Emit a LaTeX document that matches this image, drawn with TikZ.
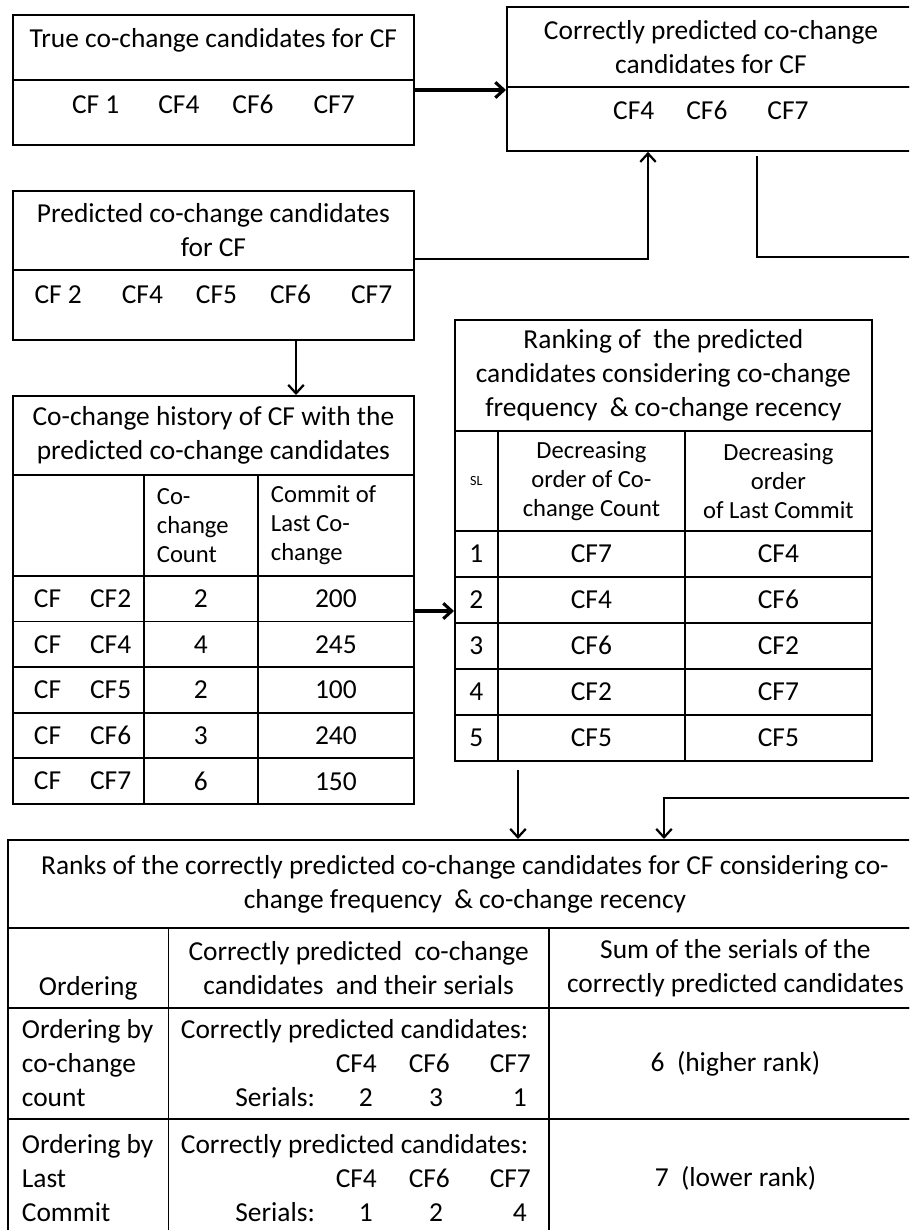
\documentclass[tikz,border=0pt]{standalone}
\usepackage{fontspec}
\setmainfont{Carlito}
\usepackage{tikz}
\usetikzlibrary{arrows.meta, positioning, calc}
\newlength{\px}
\setlength{\px}{0.025cm}
\newcommand{\cellfont}{\fontsize{19.5}{24.2}\selectfont}
\newcommand{\hdfont}{\fontsize{17.5}{20.7}\selectfont}
\newcommand{\slfont}{\fontsize{10}{12}\selectfont}

\begin{document}
\begin{tikzpicture}[
  x=0.025cm, y=-0.025cm,
  cell/.style={draw, line width=1.3pt, anchor=north west, inner sep=0pt,
               align=center, font=\cellfont},
  lcell/.style={cell, align=flush left, inner xsep=0pt,
                execute at begin node={\leftskip=#1}},
  items/.style={text height=13pt, text depth=12pt},
  row/.style={cell, text height=12.7pt, text depth=0pt},
  hisA/.style={lcell=21\px, text width=131\px, minimum width=131\px, minimum height=45.6\px},
  hisB/.style={row, minimum width=114\px, minimum height=45.6\px},
  hisC/.style={row, minimum width=156\px, minimum height=45.6\px},
  rnkA/.style={row, minimum width=43\px, minimum height=46\px},
  rnkB/.style={row, minimum width=187\px, minimum height=46\px},
  arr/.style={-{Straight Barb[length=6pt, width=11pt]}, line width=1.6pt},
  thickarr/.style={arr, line width=2.2pt}
]
  \useasboundingbox (0,0) rectangle (909,1230);
  \clip (0,0) rectangle (909,1230);

  % True co-change candidates
  \node[cell, text depth=13pt, minimum width=401\px, minimum height=65\px] (trueT) at (12,14) {True co-change candidates for CF};
  \node[cell, items, minimum width=401\px, minimum height=65\px] (trueL) at (12,79) {CF 1\hskip39\px CF4\hskip33\px CF6\hskip40\px CF7};

  % Correctly predicted candidates
  \node[cell, minimum width=408\px, minimum height=80\px] (corrT) at (506,6) {Correctly predicted co-change\\candidates for CF};
  \node[cell, items, minimum width=408\px, minimum height=64\px] (corrL) at (506,86) {CF4\hskip32\px CF6\hskip40\px CF7};

  % Predicted candidates
  \node[cell, minimum width=401\px, minimum height=79\px] (predT) at (12,190) {Predicted co-change candidates\\for CF};
  \node[cell, items, text depth=14.5pt, minimum width=401\px, minimum height=70\px] (predL) at (12,269) {CF 2\hskip40\px CF4\hskip33\px CF5\hskip33\px CF6\hskip40\px CF7};

  % Co-change history
  \node[cell, minimum width=401\px, minimum height=79\px] (hisT) at (12,395) {Co-change history of CF with the\\predicted co-change candidates};
  \node[cell, minimum width=131\px, minimum height=101\px] (hisH0) at (12,474) {};
  \node[lcell=13\px, font=\hdfont, text width=114\px, minimum width=114\px, minimum height=101\px] (hisH1) at (143,474) {Co-\\change\\Count};
  \node[lcell=13\px, font=\hdfont, text width=156\px, minimum width=156\px, minimum height=101\px] (hisH2) at (257,474) {Commit of\\Last Co-\\change};
  \node[hisA] (his1a) at (12,575) {CF\hskip29\px CF2};
  \node[hisB] (his1b) at (143,575) {2};
  \node[hisC] (his1c) at (257,575) {200};
  \node[hisA] (his2a) at (12,620.6) {CF\hskip29\px CF4};
  \node[hisB] (his2b) at (143,620.6) {4};
  \node[hisC] (his2c) at (257,620.6) {245};
  \node[hisA] (his3a) at (12,666.2) {CF\hskip29\px CF5};
  \node[hisB] (his3b) at (143,666.2) {2};
  \node[hisC] (his3c) at (257,666.2) {100};
  \node[hisA] (his4a) at (12,711.8) {CF\hskip29\px CF6};
  \node[hisB] (his4b) at (143,711.8) {3};
  \node[hisC] (his4c) at (257,711.8) {240};
  \node[hisA] (his5a) at (12,757.4) {CF\hskip29\px CF7};
  \node[hisB] (his5b) at (143,757.4) {6};
  \node[hisC] (his5c) at (257,757.4) {150};

  % Ranking of the predicted candidates
  \node[cell, minimum width=417\px, minimum height=111\px] (rnkT) at (454,319) {Ranking of\ \ the predicted\\candidates considering co-change\\frequency\ \ \& co-change recency};
  \node[cell, font=\slfont, minimum width=43\px, minimum height=100\px] (rnkH0) at (454,430) {SL};
  \node[cell, font=\hdfont, minimum width=187\px, minimum height=100\px] (rnkH1) at (497,430) {Decreasing\\order of Co-\\change Count};
  \node[cell, font=\hdfont, minimum width=187\px, minimum height=100\px] (rnkH2) at (684,430) {Decreasing\\order\\of Last Commit};
  \node[rnkA] (rnk1a) at (454,530) {1};
  \node[rnkB] (rnk1b) at (497,530) {CF7};
  \node[rnkB] (rnk1c) at (684,530) {CF4};
  \node[rnkA] (rnk2a) at (454,576) {2};
  \node[rnkB] (rnk2b) at (497,576) {CF4};
  \node[rnkB] (rnk2c) at (684,576) {CF6};
  \node[rnkA] (rnk3a) at (454,622) {3};
  \node[rnkB] (rnk3b) at (497,622) {CF6};
  \node[rnkB] (rnk3c) at (684,622) {CF2};
  \node[rnkA] (rnk4a) at (454,668) {4};
  \node[rnkB] (rnk4b) at (497,668) {CF2};
  \node[rnkB] (rnk4c) at (684,668) {CF7};
  \node[rnkA] (rnk5a) at (454,714) {5};
  \node[rnkB] (rnk5b) at (497,714) {CF5};
  \node[rnkB] (rnk5c) at (684,714) {CF5};

  % Ranks of the correctly predicted candidates
  \node[cell, minimum width=914\px, minimum height=88\px] (sumT) at (7,839) {Ranks of the correctly predicted co-change candidates for CF considering co-\\change frequency\ \ \& co-change recency};
  \node[cell, text height=43pt, minimum width=160.5\px, minimum height=80\px] (sumH0) at (7,927) {Ordering};
  \node[cell, minimum width=380.5\px, minimum height=80\px] (sumH1) at (167.5,927) {Correctly predicted\ \ co-change\\candidates\ \ and their serials};
  \node[cell, minimum width=373\px, minimum height=80\px] (sumH2) at (548,927) {Sum of the serials of the\\correctly predicted candidates};
  \node[lcell=14\px, text width=160.5\px, minimum width=160.5\px, minimum height=111\px] (sum1a) at (7,1007) {Ordering by\\co-change\\count};
  \node[lcell=12.5\px, text width=380.5\px, minimum width=380.5\px, minimum height=111\px] (sum1b) at (167.5,1007) {Correctly predicted candidates:\\
    \makebox[196\px][r]{CF4}\makebox[73\px][r]{CF6}\makebox[81\px][r]{CF7}\\
    \makebox[134\px][r]{Serials:}\makebox[58\px][r]{2}\makebox[70\px][r]{3}\makebox[84\px][r]{1}};
  \node[cell, minimum width=373\px, minimum height=111\px] (sum1c) at (548,1007) {6\ \ (higher rank)};
  \node[lcell=14\px, text width=160.5\px, minimum width=160.5\px, minimum height=118\px] (sum2a) at (7,1118) {Ordering by\\Last\\Commit};
  \node[lcell=12.5\px, text width=380.5\px, minimum width=380.5\px, minimum height=118\px] (sum2b) at (167.5,1118) {Correctly predicted candidates:\\
    \makebox[196\px][r]{CF4}\makebox[73\px][r]{CF6}\makebox[81\px][r]{CF7}\\
    \makebox[134\px][r]{Serials:}\makebox[58\px][r]{1}\makebox[70\px][r]{2}\makebox[84\px][r]{4}};
  \node[cell, minimum width=373\px, minimum height=118\px] (sum2c) at (548,1118) {7\ \ (lower rank)};

  % connectors
  \coordinate (hisout) at ($(his1c.north east)+(0,36)$);
  \coordinate (rtop) at (950,257);
  \coordinate (rbot) at (950,798);
  \draw[thickarr] ($(trueL.north east)+(0,11)$) -- ($(corrL.north west)+(0,4)$);
  \draw[arr] ($(predT.south east)+(0,-12)$) -| ($(corrL.south west)+(142,0)$);
  \draw[arr] ($(corrL.south west)+(251,4)$) |- (rtop) -- (rbot) -| ($(sumT.north west)+(657,0)$);
  \draw[arr] ($(predL.south west)+(284,0)$) -- ($(hisT.north west)+(284,0)$);
  \draw[thickarr] (hisout) -- (hisout -| rnk2a.west);
  \draw[arr] ($(rnk5b.south west)+(21,8)$) -- ($(sumT.north west)+(511,0)$);
\end{tikzpicture}
\end{document}
